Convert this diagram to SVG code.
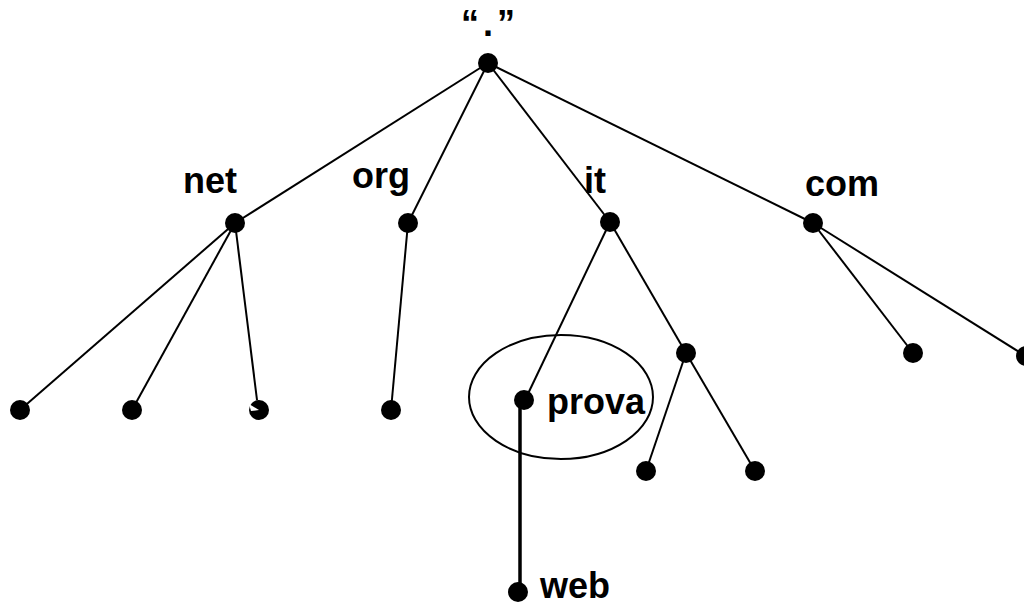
<svg xmlns="http://www.w3.org/2000/svg" width="1024" height="604" viewBox="0 0 1024 604">
<style>
.e{stroke:#000;stroke-width:2;fill:none}
.t{stroke:#000;stroke-width:3.5;fill:none}
.n{fill:#000}
.l{font-family:"Liberation Sans",Arial,sans-serif;font-weight:bold;font-size:36px;fill:#000}
</style>
<rect width="1024" height="604" fill="#fff"/>
<g id="connectors">
<line class="e" x1="488" y1="63" x2="235" y2="223"/>
<line class="e" x1="488" y1="63" x2="408" y2="223"/>
<line class="e" x1="488" y1="63" x2="610" y2="222"/>
<line class="e" x1="488" y1="63" x2="813" y2="223"/>
<line class="e" x1="235" y1="223" x2="20" y2="410"/>
<line class="e" x1="235" y1="223" x2="132" y2="410"/>
<line class="e" x1="235" y1="223" x2="257" y2="400"/>
<line class="e" x1="408" y1="223" x2="391" y2="410"/>
<line class="e" x1="610" y1="222" x2="525" y2="400"/>
<line class="e" x1="610" y1="222" x2="686" y2="353"/>
<line class="e" x1="686" y1="353" x2="646" y2="471"/>
<line class="e" x1="686" y1="353" x2="755" y2="471"/>
<line class="e" x1="813" y1="223" x2="913" y2="353"/>
<line class="e" x1="813" y1="223" x2="1024" y2="355"/>
<line class="t" x1="520" y1="400" x2="520" y2="590"/>
<ellipse class="e" cx="561" cy="397" rx="92" ry="62"/>
</g>
<g id="root"><circle class="n" cx="488" cy="63" r="10"/><text class="l" x="490" y="36" text-anchor="middle" letter-spacing="4">“.”</text></g>
<g id="net"><circle class="n" cx="235" cy="223" r="10"/><text class="l" x="183" y="193">net</text></g>
<g id="org"><circle class="n" cx="408" cy="223" r="10"/><text class="l" x="352" y="188">org</text></g>
<g id="it"><circle class="n" cx="610" cy="222" r="10"/><text class="l" x="584" y="193">it</text></g>
<g id="com"><circle class="n" cx="813" cy="223" r="10"/><text class="l" x="805" y="196">com</text></g>
<g id="net1"><circle class="n" cx="20" cy="410" r="10"/></g>
<g id="net2"><circle class="n" cx="132" cy="410" r="10"/></g>
<g id="net3"><circle class="n" cx="259" cy="410" r="10"/><path d="M259 410 L249 404 L251 411 Z" fill="#fff"/></g>
<g id="org1"><circle class="n" cx="391" cy="410" r="10"/></g>
<g id="prova"><circle class="n" cx="524" cy="400" r="10"/><text class="l" x="547" y="414">prova</text></g>
<g id="it2"><circle class="n" cx="686" cy="353" r="10"/></g>
<g id="it21"><circle class="n" cx="646" cy="471" r="10"/></g>
<g id="it22"><circle class="n" cx="755" cy="471" r="10"/></g>
<g id="com1"><circle class="n" cx="913" cy="353" r="10"/></g>
<g id="com2"><circle class="n" cx="1026" cy="356" r="10"/></g>
<g id="web"><circle class="n" cx="518" cy="592" r="10"/><text class="l" x="540" y="598">web</text></g>
</svg>
